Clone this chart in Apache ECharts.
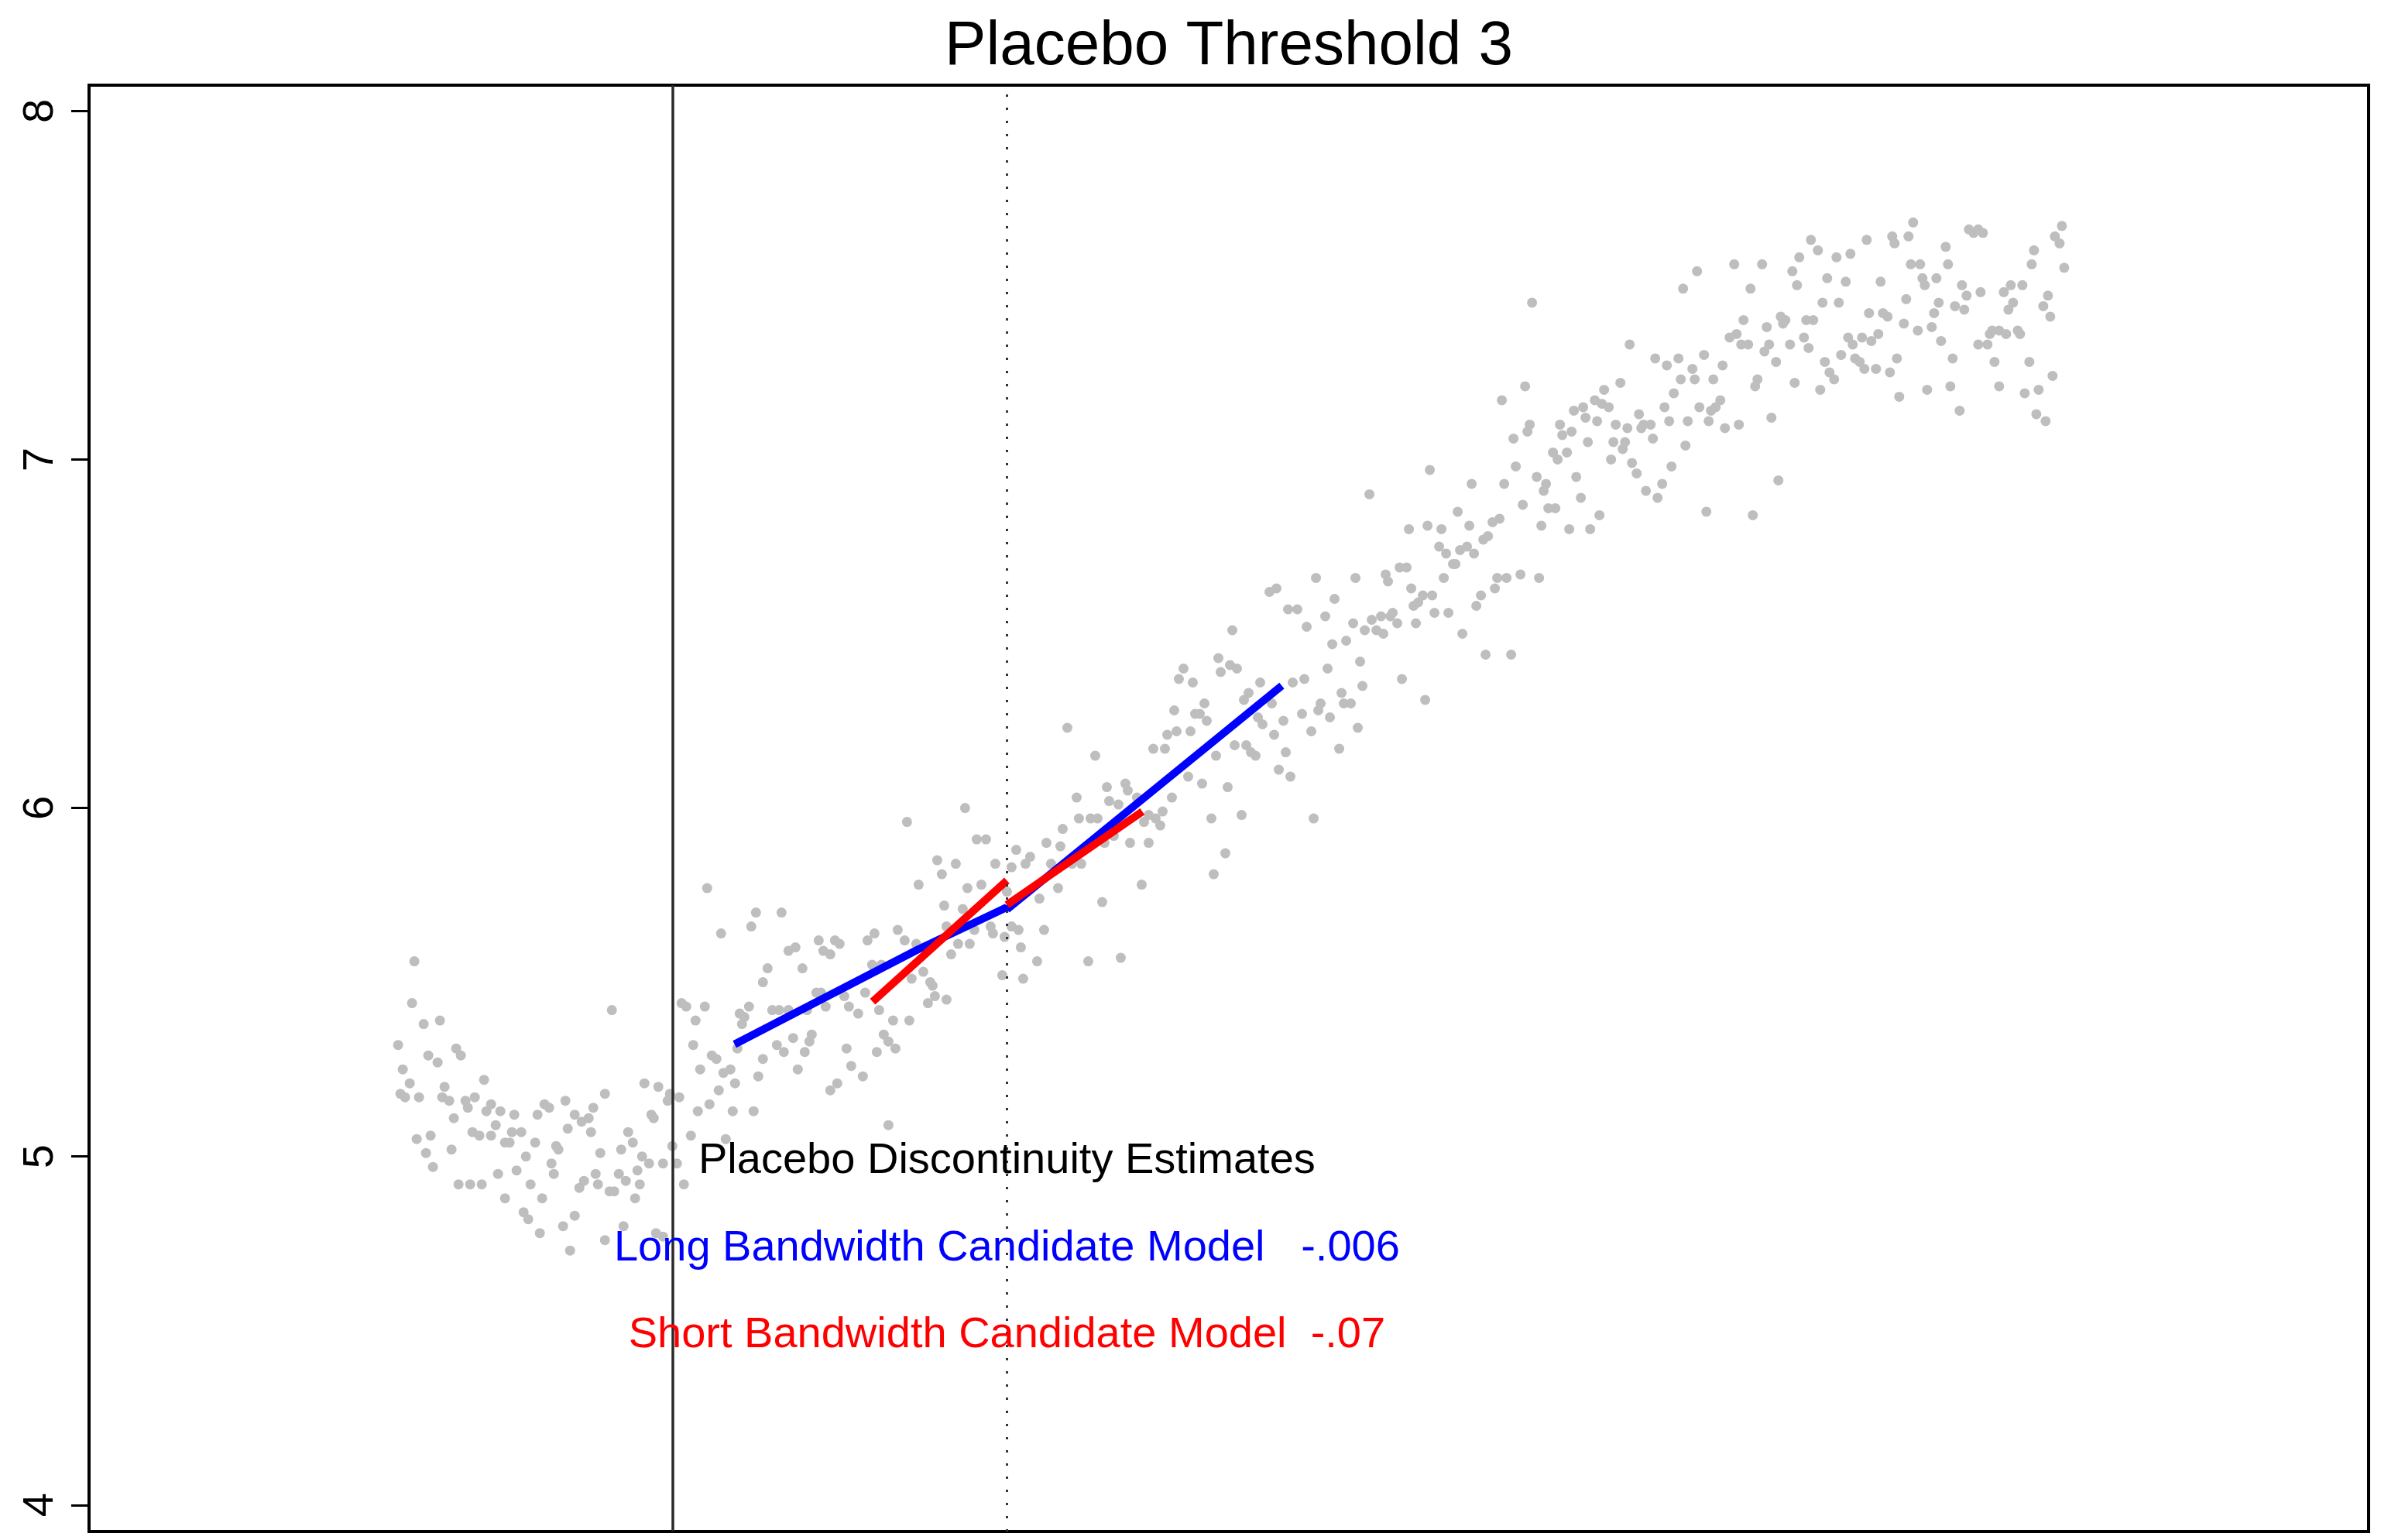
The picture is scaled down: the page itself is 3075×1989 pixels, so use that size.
<!DOCTYPE html>
<html>
<head>
<meta charset="utf-8">
<title>Placebo Threshold 3</title>
<script src="https://cdn.jsdelivr.net/npm/echarts@6/dist/echarts.min.js"></script>
<style>
  html, body { margin: 0; padding: 0; background: #fff; }
  #chart { width: 3075px; height: 1989px; }
</style>
</head>
<body>
<div id="chart"></div>
<script>
// Running variable (arbitrary score units) and outcome limits of the plotting region
const xMin = 0, xMax = 98.1;
const yMin = 3.924, yMax = 8.074;
const yTicks = [4, 5, 6, 7, 8];

// Cutoffs: the real threshold and the placebo threshold being tested
const actualCutoff = 25.1;
const placeboCutoff = 39.5;

// Estimated jumps at the placebo threshold
const longEstimate = -0.006;
const shortEstimate = -0.07;

// Observations [score, outcome]
const observations = [
  [14.0,5.56],[13.9,5.44],[14.4,5.38],[15.1,5.39],[13.3,5.32],[14.6,5.29],[15.0,5.27],[15.8,5.31],[16.0,5.29],[13.5,5.25],
  [13.8,5.21],[13.4,5.18],[13.6,5.17],[14.2,5.17],[15.3,5.20],[15.2,5.17],[15.5,5.16],[17.0,5.22],[16.6,5.17],[16.2,5.16],
  [16.3,5.14],[17.3,5.15],[17.1,5.13],[17.7,5.13],[18.3,5.12],[15.7,5.11],[14.1,5.05],[14.7,5.06],[14.5,5.01],[14.8,4.97],
  [15.6,5.02],[16.5,5.07],[16.8,5.06],[17.5,5.09],[17.3,5.06],[18.2,5.07],[18.6,5.07],[17.9,5.04],[18.1,5.04],[19.2,5.04],
  [18.8,5.00],[18.4,4.96],[17.6,4.95],[15.9,4.92],[16.4,4.92],[16.9,4.92],[17.9,4.88],[19.0,4.92],[19.5,4.88],[18.7,4.84],
  [18.9,4.82],[19.4,4.78],[20.4,4.80],[20.7,4.73],[20.9,4.83],[19.3,5.12],[19.6,5.15],[19.8,5.14],[20.5,5.16],[20.9,5.12],
  [21.2,5.10],[21.5,5.11],[20.6,5.08],[21.6,5.07],[21.7,5.14],[22.2,5.18],[20.1,5.03],[20.2,5.02],[19.9,4.98],[20.0,4.95],
  [22.0,5.01],[22.9,5.02],[23.2,5.07],[23.4,5.04],[23.8,5.00],[24.1,4.98],[24.7,4.98],[23.6,4.96],[23.7,4.92],[23.1,4.93],
  [22.8,4.95],[21.8,4.95],[21.9,4.92],[21.3,4.93],[21.1,4.91],[22.4,4.90],[22.6,4.90],[23.5,4.88],[23.0,4.80],[22.2,4.76],
  [24.4,4.78],[24.7,4.77],[24.2,5.12],[24.3,5.11],[23.9,5.21],[24.5,5.20],[25.0,5.18],[24.9,5.16],[25.4,5.17],[22.5,5.42],
  [25.1,5.03],[25.3,4.98],[25.6,4.92],[25.9,5.06],[25.5,5.44],[25.7,5.43],[26.5,5.43],[26.1,5.39],[26.0,5.32],[26.8,5.29],
  [27.0,5.28],[26.3,5.25],[27.3,5.24],[27.6,5.25],[27.8,5.21],[27.1,5.19],[26.7,5.15],[26.2,5.13],[27.7,5.13],[27.4,5.05],
  [27.2,5.64],
  [35.2,5.96],[37.7,6.00],[38.2,5.91],[38.6,5.91],[36.5,5.85],[37.3,5.84],[36.7,5.81],[39.0,5.84],[39.7,5.83],[39.9,5.88],
  [40.5,5.86],[40.3,5.84],[41.2,5.90],[35.7,5.78],[37.8,5.77],[38.4,5.78],[36.8,5.72],[37.6,5.71],[36.9,5.66],[39.5,5.76],
  [28.7,5.70],[28.5,5.66],[29.8,5.70],[31.4,5.62],[31.6,5.59],[31.9,5.58],[32.1,5.62],[32.3,5.61],[30.1,5.59],[30.4,5.60],
  [33.5,5.62],[33.8,5.64],[34.8,5.65],[35.1,5.62],[35.6,5.61],[29.2,5.54],[30.7,5.54],[29.0,5.50],[33.7,5.55],[34.1,5.55],
  [31.3,5.47],[31.5,5.47],[32.7,5.43],[31.7,5.43],[29.4,5.42],[29.7,5.42],[30.1,5.42],[30.9,5.42],[28.0,5.41],[28.4,5.43],
  [28.2,5.40],[28.1,5.38],[33.1,5.41],[34.0,5.42],[34.6,5.39],[35.3,5.39],[33.4,5.47],[32.5,5.46],[35.4,5.51],[35.9,5.53],
  [36.2,5.50],[36.3,5.49],[36.4,5.46],[36.1,5.44],[36.9,5.45],[37.1,5.58],[37.4,5.61],[37.9,5.61],[38.1,5.65],[38.8,5.66],
  [38.9,5.64],[39.4,5.63],[39.7,5.66],[40.0,5.65],[40.1,5.60],[39.3,5.52],[40.2,5.51],[40.8,5.56],[41.1,5.65],[40.9,5.74],
  [29.0,5.28],[28.8,5.23],[29.6,5.32],[29.9,5.30],[30.3,5.34],[31.0,5.33],[31.1,5.35],[30.8,5.30],[30.5,5.25],[28.6,5.13],
  [32.6,5.31],[31.9,5.19],[32.2,5.21],[32.8,5.26],[33.3,5.23],[33.9,5.30],[34.2,5.35],[34.4,5.33],[34.7,5.31],[34.4,5.09],
  [27.9,5.31],[26.6,5.77],
  [49.2,6.51],[52.4,6.52],[54.4,6.53],[53.5,6.47],[54.1,6.48],[54.7,6.42],[53.3,6.40],[54.8,6.35],[53.9,6.33],[54.0,6.30],
  [54.3,6.30],[53.0,6.30],[52.9,6.28],[53.4,6.26],[52.2,6.27],[54.6,6.23],[52.6,6.22],[53.8,6.17],[48.6,6.43],[49.1,6.41],
  [49.4,6.40],[48.7,6.39],[47.1,6.40],[46.9,6.37],[47.5,6.36],[50.4,6.36],[49.9,6.33],[49.7,6.31],[51.8,6.36],[52.3,6.37],
  [48.0,6.30],[47.6,6.27],[47.8,6.27],[48.1,6.25],[46.7,6.28],[50.9,6.30],[50.3,6.26],[50.5,6.24],[51.4,6.25],[51.0,6.21],
  [47.4,6.22],[46.8,6.22],[46.4,6.21],[45.8,6.17],[46.3,6.17],[49.3,6.18],[49.8,6.18],[50.0,6.16],[50.2,6.15],[48.5,6.15],
  [51.5,6.16],[51.2,6.11],[51.7,6.09],[42.1,6.23],[43.3,6.15],[47.3,6.09],[47.9,6.07],[49.0,6.06],[46.6,6.03],[43.8,6.06],
  [44.6,6.07],[44.7,6.05],[45.1,6.03],[42.5,6.03],[43.9,6.02],[44.3,6.01],[46.2,5.99],[45.9,5.97],[46.1,5.95],[45.4,5.96],
  [45.6,5.98],[48.3,5.97],[49.6,5.98],[52.7,5.97],[43.1,5.97],[43.4,5.97],[42.6,5.97],[41.9,5.94],[41.8,5.89],[44.8,5.90],
  [45.6,5.90],[44.1,5.92],[43.7,5.90],[42.7,5.84],[42.3,5.84],[41.4,5.84],[48.9,5.87],[48.4,5.81],[45.3,5.78],[43.6,5.73],
  [41.7,5.77],[43.0,5.56],[44.4,5.57],
  [52.8,6.66],[54.5,6.66],[50.8,6.62],[51.1,6.63],[53.6,6.60],[51.6,6.57],[52.0,6.57],[53.2,6.55],[62.1,7.45],[66.3,7.33],
  [67.4,7.29],[67.9,7.27],[68.4,7.29],[68.6,7.49],[69.0,7.26],[68.5,7.23],[68.2,7.19],[61.8,7.21],[60.8,7.17],[65.9,7.22],
  [65.2,7.20],[64.8,7.17],
  [63.9,7.14],[64.3,7.15],[64.4,7.12],[65.1,7.16],[65.4,7.15],[66.7,7.13],[67.8,7.15],[62.0,7.10],[61.9,7.08],[61.3,7.06],
  [63.3,7.10],[63.4,7.07],[63.8,7.08],[64.9,7.11],[65.7,7.10],[66.2,7.09],[66.8,7.09],[66.9,7.10],[67.2,7.10],[67.3,7.06],
  [68.0,7.11],[68.8,7.11],[64.5,7.05],[65.6,7.05],[66.1,7.05],[66.0,7.03],[68.7,7.04],[63.0,7.02],[63.2,7.00],[63.6,7.02],
  [65.5,7.00],[66.4,6.99],[66.6,6.96],[68.1,6.98],[61.4,6.98],[62.3,6.95],[64.0,6.95],[60.9,6.93],[59.5,6.93],[62.7,6.93],
  [62.6,6.91],[67.7,6.93],[67.0,6.91],[67.5,6.89],[64.2,6.89],[57.7,6.97],[55.1,6.90],[61.7,6.87],[62.8,6.86],[63.1,6.86],
  [65.0,6.84],[62.5,6.81],[63.7,6.80],[64.6,6.80],[58.9,6.85],[56.8,6.80],[57.6,6.81],[58.2,6.80],[59.4,6.81],[60.4,6.82],
  [60.7,6.83],[60.0,6.77],[60.2,6.78],[58.1,6.75],[58.4,6.73],[59.0,6.74],[59.3,6.75],[59.6,6.73],[58.7,6.70],[58.8,6.70],
  [58.3,6.66],[56.4,6.69],[56.7,6.69],[55.8,6.67],[55.9,6.65],[56.5,6.37],[57.5,6.31],[54.9,6.51],[55.2,6.54],[55.6,6.55],
  [55.4,6.51],[55.7,6.50],[56.1,6.56],[56.0,6.55],[56.3,6.53],[56.9,6.63],[57.4,6.61],[57.0,6.58],[57.2,6.59],[57.8,6.61],
  [57.9,6.56],[58.5,6.56],[57.1,6.53],[59.1,6.50],[59.7,6.58],[59.9,6.61],[60.5,6.63],[60.6,6.66],[61.0,6.66],[61.6,6.67],
  [62.4,6.66],[60.1,6.44],[61.2,6.44],
  [69.2,7.54],[70.8,7.56],[72.0,7.56],[71.5,7.49],[73.3,7.54],[73.5,7.50],[73.6,7.58],[74.1,7.63],[74.4,7.60],[75.2,7.58],
  [75.8,7.59],[74.8,7.52],[75.6,7.51],[74.6,7.45],[75.3,7.45],[76.5,7.63],[77.6,7.64],[77.7,7.62],[78.3,7.64],[78.5,7.68],
  [77.1,7.51],[78.4,7.56],[78.8,7.56],[79.9,7.61],[80.0,7.56],[78.9,7.52],[79.0,7.50],[79.5,7.52],[78.2,7.46],[79.6,7.45],
  [79.4,7.42],[80.3,7.44],[80.7,7.43],[80.6,7.50],[80.8,7.47],[81.4,7.48],[80.9,7.66],[81.1,7.65],[81.3,7.66],[81.5,7.65],
  [82.4,7.48],[82.7,7.50],[83.2,7.50],[82.8,7.45],[82.6,7.43],[83.7,7.60],[83.6,7.56],[71.2,7.40],[72.2,7.38],[70.6,7.35],
  [70.9,7.36],[71.1,7.33],[71.4,7.33],[72.8,7.41],[73.0,7.40],[72.9,7.39],[73.9,7.40],[74.2,7.40],[73.2,7.33],[73.8,7.35],
  [74.0,7.32],[72.1,7.31],[72.3,7.33],[72.6,7.28],[71.8,7.23],[71.7,7.21],[73.4,7.22],[74.5,7.20],[74.7,7.28],[74.9,7.25],
  [75.1,7.23],[75.4,7.30],[75.7,7.35],[75.9,7.33],[76.3,7.35],[76.7,7.34],[77.0,7.36],[76.0,7.29],[76.2,7.28],[76.4,7.26],
  [76.9,7.26],[77.5,7.25],[77.8,7.29],[76.6,7.42],[77.2,7.42],[77.4,7.41],[78.1,7.39],[78.7,7.37],[79.3,7.38],[79.7,7.34],
  [80.2,7.29],[79.1,7.20],[80.1,7.21],[80.5,7.14],[77.9,7.18],[81.3,7.33],[81.7,7.33],[81.8,7.36],[81.9,7.37],[82.2,7.37],
  [82.5,7.36],[83.0,7.37],[83.1,7.36],[82.0,7.28],[83.5,7.28],[82.2,7.21],[83.3,7.19],[83.9,7.20],[83.8,7.13],[69.5,7.30],
  [70.3,7.27],[69.9,7.23],[69.1,7.23],[69.3,7.15],[69.7,7.11],[69.8,7.14],[70.0,7.15],[70.2,7.17],[70.4,7.09],[71.0,7.10],
  [69.6,6.85],[71.6,6.84],[72.4,7.12],[72.7,6.94],
  [84.9,7.67],[84.6,7.64],[84.8,7.62],[85.0,7.55],[84.3,7.47],[84.1,7.44],[84.4,7.41],[84.5,7.24],[84.2,7.11]
];

// Fitted lines on each side of the placebo cutoff
const longFitLeft = [[27.78, 5.322], [35.61, 5.592], [placeboCutoff, 5.715]];
const longFitRightEnd = [51.33, 6.351];
const shortFitLeft = [[33.72, 5.444], [placeboCutoff, 5.792]];
const shortFitRightEnd = [45.33, 5.99];

// Right-hand segments start at the left limit plus the estimated jump
const longFitRight = [[placeboCutoff, longFitLeft[longFitLeft.length - 1][1] + longEstimate], longFitRightEnd];
const shortFitRight = [[placeboCutoff, shortFitLeft[shortFitLeft.length - 1][1] + shortEstimate], shortFitRightEnd];

const fmtEstimate = v => v.toString().replace('0.', '.');

const titleText = 'Placebo Threshold 3';
const noteLines = [
  { text: 'Placebo Discontinuity Estimates', y: 5.0, color: '#000000' },
  { text: 'Long Bandwidth Candidate Model   ' + fmtEstimate(longEstimate), y: 4.75, color: '#0000ff' },
  { text: 'Short Bandwidth Candidate Model  ' + fmtEstimate(shortEstimate), y: 4.5, color: '#ff0000' }
];

const FONT = '"Liberation Sans", Arial, Helvetica, sans-serif';
const BLUE = '#0000ff', RED = '#ff0000';

const grid = { left: 115, right: 16, top: 110, bottom: 11 };

const chart = echarts.init(document.getElementById('chart'), null, { renderer: 'canvas', width: 3075, height: 1989 });

const fitSeries = (data, color, z) => ({
  type: 'line',
  data: data,
  showSymbol: false,
  symbol: 'none',
  z: z,
  silent: true,
  lineStyle: { color: color, width: 10, cap: 'butt', join: 'miter' }
});

chart.setOption({
  animation: false,
  backgroundColor: '#ffffff',
  textStyle: { fontFamily: FONT },
  graphic: [{
    type: 'text',
    x: grid.left + (3075 - grid.left - grid.right) / 2,
    y: 61,
    style: {
      text: titleText,
      font: '80px ' + FONT,
      fill: '#000',
      align: 'center',
      verticalAlign: 'middle'
    }
  }],
  grid: Object.assign({ show: true, borderColor: '#000', borderWidth: 4, backgroundColor: 'transparent', containLabel: false }, grid),
  xAxis: {
    type: 'value', min: xMin, max: xMax, show: false
  },
  yAxis: {
    type: 'value', min: yMin, max: yMax,
    splitLine: { show: false },
    axisLine: { show: false },
    axisTick: { show: true, length: 23, lineStyle: { color: '#000', width: 3 }, customValues: yTicks },
    axisLabel: {
      customValues: yTicks, rotate: 90, fontSize: 56, color: '#000', margin: 34, fontFamily: FONT,
      showMinLabel: true, showMaxLabel: true
    }
  },
  series: [
    {
      type: 'scatter',
      data: observations,
      symbol: 'circle',
      symbolSize: 13,
      z: 1,
      silent: true,
      itemStyle: { color: '#bebebe', opacity: 1 }
    },
    {
      type: 'line',
      data: [],
      z: 2,
      silent: true,
      markLine: {
        silent: true,
        symbol: 'none',
        label: { show: false },
        animation: false,
        data: [
          { xAxis: actualCutoff, lineStyle: { type: 'solid', color: '#2a2a2a', width: 3.5 } },
          { xAxis: placeboCutoff, lineStyle: { type: [3, 14], color: '#333', width: 3 } }
        ]
      }
    },
    fitSeries(longFitLeft, BLUE, 3),
    fitSeries(longFitRight, BLUE, 3),
    fitSeries(shortFitLeft, RED, 4),
    fitSeries(shortFitRight, RED, 4),
    {
      type: 'scatter',
      z: 5,
      silent: true,
      symbolSize: 1,
      itemStyle: { color: 'rgba(0,0,0,0)' },
      data: noteLines.map(n => ({
        name: n.text,
        value: [placeboCutoff, n.y],
        label: { color: n.color }
      })),
      label: {
        show: true,
        position: 'inside',
        offset: [0, 6],
        formatter: p => p.name,
        fontSize: 56,
        fontFamily: FONT,
        align: 'center',
        verticalAlign: 'middle',
        textBorderWidth: 0,
        textShadowBlur: 0,
        opacity: 1
      }
    }
  ]
});
</script>
</body>
</html>
